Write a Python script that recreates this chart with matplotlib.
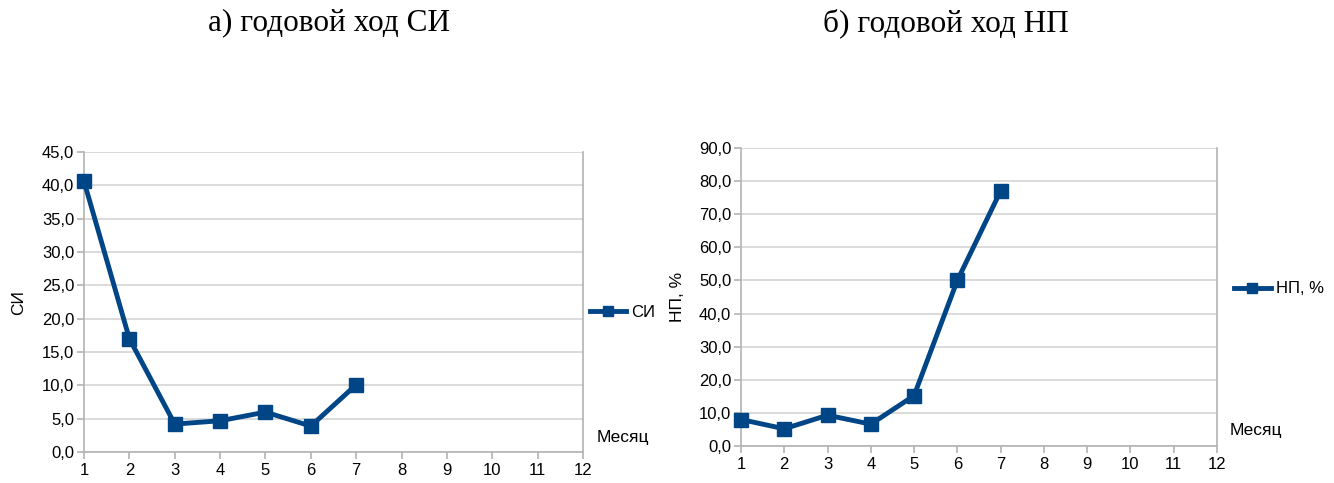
import matplotlib

matplotlib.use("Agg")
import matplotlib.pyplot as plt
from matplotlib.lines import Line2D
from matplotlib.ticker import FuncFormatter

months = [1, 2, 3, 4, 5, 6, 7]
si_values = [40.6, 17.0, 4.2, 4.7, 6.0, 3.9, 10.1]
np_values = [8.0, 5.2, 9.3, 6.6, 15.2, 50.0, 77.0]
month_ticks = list(range(1, 13))

plt.rcParams["font.family"] = ["Liberation Sans", "DejaVu Sans"]

LINE_COLOR = "#004586"
GRID_COLOR = "#d4d4d4"
AXIS_COLOR = "#b3b3b3"


def comma_fmt(v, pos):
    return f"{v:.1f}".replace(".", ",")


def draw_panel(fig, rect, values, ymax, ystep, ylabel, legend_label, title, title_x,
               legend_xy, month_xy, ylabel_x):
    ax = fig.add_axes(rect)
    ax.plot(months, values, color=LINE_COLOR, lw=3.5, marker="s", ms=10.5,
            markeredgecolor=LINE_COLOR, markerfacecolor=LINE_COLOR, clip_on=False, zorder=3)
    ax.set_xlim(1, 12)
    ax.set_ylim(0, ymax)
    ax.set_xticks(month_ticks)
    ax.set_yticks([i * ystep for i in range(int(ymax / ystep) + 1)])
    ax.yaxis.set_major_formatter(FuncFormatter(comma_fmt))
    ax.grid(axis="y", color=GRID_COLOR, lw=1.2)
    ax.set_axisbelow(True)
    for side in ["left", "bottom", "right"]:
        ax.spines[side].set_color(AXIS_COLOR)
        ax.spines[side].set_linewidth(1.2)
    ax.spines["top"].set_visible(False)
    ax.tick_params(axis="both", colors=AXIS_COLOR, length=5, width=1.2,
                   labelcolor="black", labelsize=12)
    ax.tick_params(axis="x", pad=3)
    ax.tick_params(axis="y", pad=2)

    fig.text(ylabel_x, rect[1] + rect[3] / 2, ylabel, rotation=90, ha="center",
             va="center", fontsize=12.5)
    fig.text(title_x, 0.952, title, ha="center", va="center", fontsize=22.5,
             family=["Liberation Serif", "DejaVu Serif"])
    fig.text(month_xy[0], month_xy[1], "Месяц", ha="left", va="center", fontsize=12.5)

    handle = Line2D([], [], color=LINE_COLOR, lw=3.5, marker="s", ms=7.5)
    fig.legend([handle], [legend_label], loc="center left", bbox_to_anchor=legend_xy,
               frameon=False, fontsize=12, handlelength=2.2, handletextpad=0.3,
               borderpad=0, borderaxespad=0)
    return ax


fig = plt.figure(figsize=(13.34, 4.83), dpi=100)

draw_panel(fig, [0.063, 0.064, 0.374, 0.621], si_values, 45, 5, "СИ", "СИ",
           "а) годовой ход СИ", 0.247, (0.442, 0.354), (0.447, 0.095), 0.014)
draw_panel(fig, [0.5555, 0.0766, 0.3567, 0.617], np_values, 90, 10, "НП, %", "НП, %",
           "б) годовой ход НП", 0.709, (0.925, 0.402), (0.922, 0.109), 0.508)

fig.savefig("out.png", dpi=100)
